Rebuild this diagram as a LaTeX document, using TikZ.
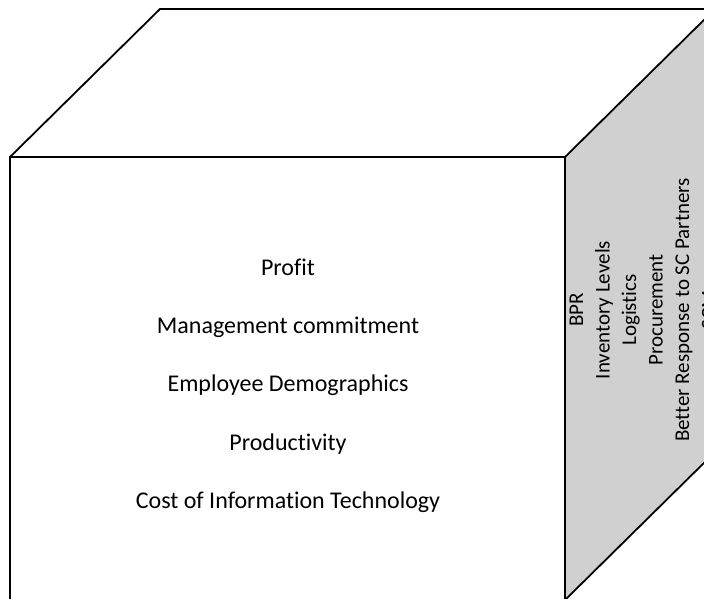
\documentclass[tikz,border=0pt]{standalone}
\usepackage{fontspec}
\setmainfont[Ligatures=NoCommon]{Carlito}
\begin{document}
\begin{tikzpicture}[x=1pt,y=-1pt,
  edge/.style={line width=1.8pt,line join=miter,black},
  sideface/.style={fill={rgb,255:red,208;green,208;blue,208}},
  fronttext/.style={anchor=base,font=\fontsize{24}{29}\selectfont,inner sep=0pt},
  sidetext/.style={anchor=base,rotate=90,font=\fontsize{21}{26}\selectfont,inner sep=0pt}]
  \useasboundingbox (0,0) rectangle (704,598);
  \clip (0,0) rectangle (704,598);
  % cube corners
  \coordinate (ftl) at (10,157);
  \coordinate (ftr) at (565,157);
  \coordinate (fbl) at (10,600);
  \coordinate (fbr) at (565,600);
  \coordinate (btl) at (160,9);
  \coordinate (btr) at (715,9);
  \coordinate (bbr) at (715,452);
  % faces
  \fill[sideface] (ftr) -- (btr) -- (bbr) -- (fbr) -- cycle;
  \draw[edge] (ftl) -- (ftr) -- (fbr) -- (fbl) -- cycle;
  \draw[edge] (ftl) -- (btl) -- (btr) -- (ftr);
  \draw[edge] (btr) -- (bbr) -- (fbr);
  % front face labels
  \node[fronttext] (profit) at (288,275) {Profit};
  \node[fronttext] (mgmt) at (288,333.3) {Management commitment};
  \node[fronttext] (emp) at (288,391.7) {Employee Demographics};
  \node[fronttext] (prod) at (288,450) {Productivity};
  \node[fronttext] (cost) at (288,508.3) {Cost of Information Technology};
  % side face labels
  \node[sidetext] (bpr) at (583,310) {BPR};
  \node[sidetext] (inv) at (609.5,310) {Inventory Levels};
  \node[sidetext] (log) at (636,310) {Logistics};
  \node[sidetext] (proc) at (662.5,310) {Procurement};
  \node[sidetext] (resp) at (689,310) {Better Response to SC Partners};
  \node[sidetext] (scm) at (715.5,310) {SCM};
\end{tikzpicture}
\end{document}
